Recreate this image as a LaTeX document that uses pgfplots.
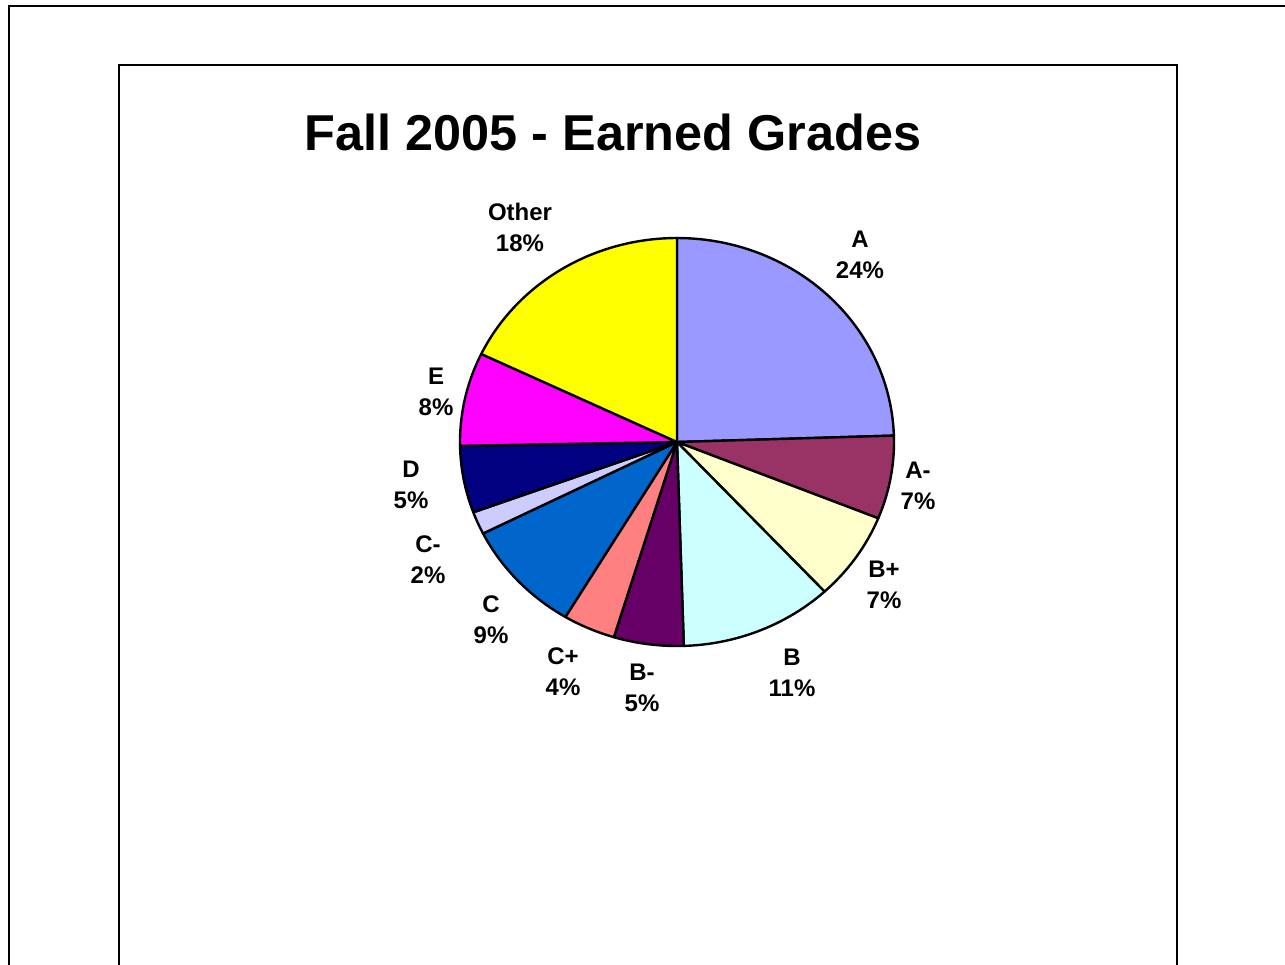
\documentclass[border=0pt]{standalone}
\usepackage{fontspec}
\setmainfont{Liberation Sans}
\usepackage{pgfplots}
\usepackage{pgfplotstable}
\pgfplotsset{compat=1.18}

% Excel palette, one colour per slice (same order as the table)
\definecolor{c0}{HTML}{9999FF}
\definecolor{c1}{HTML}{993366}
\definecolor{c2}{HTML}{FFFFCC}
\definecolor{c3}{HTML}{CCFFFF}
\definecolor{c4}{HTML}{660066}
\definecolor{c5}{HTML}{FF8080}
\definecolor{c6}{HTML}{0066CC}
\definecolor{c7}{HTML}{CCCCFF}
\definecolor{c8}{HTML}{000080}
\definecolor{c9}{HTML}{FF00FF}
\definecolor{c10}{HTML}{FFFF00}

\tikzset{lbl/.style={align=center, inner sep=0pt,
    font=\bfseries\fontsize{12}{15.5}\selectfont}}

% share = slice size in percent, pct = printed label, lx/ly = label position (px)
\pgfplotstableread{
grade share pct lx ly
A     24.5  24  860 254.5
A-    6.6   7   918 485.5
B+    7.0   7   884 584.5
B     11.4  11  792 672.5
B-    5.2   5   642 687.5
C+    3.9   4   563 671.5
C     9.0   9   491 619.5
C-    1.8   2   428 560
D     5.3   5   411 484.5
E     7.4   8   436 391.5
Other 17.9  18  520 227
}\grades

\begin{document}
\begin{tikzpicture}
\begin{axis}[
  width=642.5pt, height=482pt, scale only axis,
  xmin=0, xmax=1285, ymin=0, ymax=964, y dir=reverse,
  hide axis, clip=false,
]
\coordinate (bbA) at (axis cs:0,964);
\coordinate (bbB) at (axis cs:1285,0);

% chart frames
\draw[line width=1.4pt] (axis cs:9,1100) -- (axis cs:9,6) -- (axis cs:1400,6);
\draw[line width=1.4pt] (axis cs:119,1100) -- (axis cs:119,65)
  -- (axis cs:1177,65) -- (axis cs:1177,1100);

\node[anchor=base, font=\bfseries\fontsize{25.2}{30}\selectfont]
  at (axis cs:613,150) {Fall 2005 - Earned Grades};

\gdef\cum{0}
\pgfplotsinvokeforeach{0,...,10}{
  \pgfplotstablegetelem{#1}{share}\of\grades \let\sh\pgfplotsretval
  \pgfplotstablegetelem{#1}{grade}\of\grades \let\gr\pgfplotsretval
  \pgfplotstablegetelem{#1}{pct}\of\grades \let\pc\pgfplotsretval
  \pgfplotstablegetelem{#1}{lx}\of\grades \let\lx\pgfplotsretval
  \pgfplotstablegetelem{#1}{ly}\of\grades \let\ly\pgfplotsretval
  \pgfmathsetmacro\a{\cum*3.6}
  \pgfmathsetmacro\b{(\cum+\sh)*3.6}
  \edef\temp{%
    \noexpand\addplot[fill=c#1, draw=black, line width=1.2pt, line join=round,
      domain=\a:\b, samples=60]
      ({677+217*sin(x)},{442-204*cos(x)}) -- (axis cs:677,442) -- cycle;
    \noexpand\node[lbl] at (axis cs:\lx,\ly) {\gr\noexpand\\\pc\noexpand\%};}
  \temp
  \pgfmathsetmacro\newcum{\cum+\sh}\global\let\cum\newcum
}
\end{axis}
\pgfresetboundingbox
\path[use as bounding box] (bbA) rectangle (bbB);
\end{tikzpicture}
\end{document}
